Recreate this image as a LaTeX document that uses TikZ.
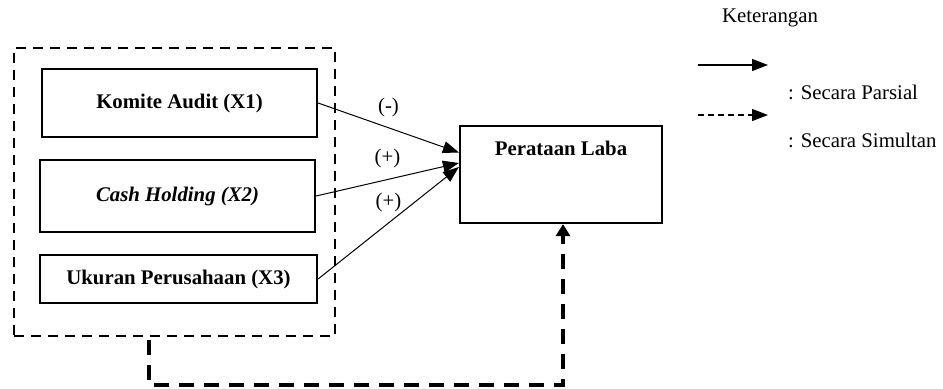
\documentclass[tikz,border=0pt]{standalone}
\usepackage{fontspec}
\setmainfont{Liberation Serif}
\usetikzlibrary{arrows.meta, positioning, calc}

\newcommand{\teks}{\fontsize{10.4}{12.5}\selectfont}

\begin{document}
\begin{tikzpicture}[
        % 1 birim = 0.5pt, y aşağı doğru artıyor
        x=0.5pt, y=-0.5pt,
        font=\teks,
        varbox/.style={rectangle, draw, line width=1.1pt, font=\teks\bfseries, align=center, inner sep=0pt},
        grupbox/.style={rectangle, draw, line width=0.9pt, dash pattern=on 5pt off 3.5pt, minimum width=160.5pt, minimum height=144pt},
        partial/.style={-{Triangle[length=8pt, width=6pt]}, line width=0.5pt},
        simultan/.style={-{Triangle[length=6pt, width=7pt]}, line width=2pt, dash pattern=on 7.5pt off 5pt},
        legendarrow/.style={-{Triangle[length=8pt, width=6pt]}, line width=0.6pt}
    ]

    \useasboundingbox (0,0) rectangle (943,388);

    % Bağımsız değişkenler (X1, X2, X3)
    \node (grup) [grupbox] at (174.5,192) {};

    \node (x1) [varbox, minimum width=137.5pt, minimum height=34pt] at (179.5,103) {Komite Audit (X1)};

    \node (x2) [varbox, minimum width=137.5pt, minimum height=36pt, font=\teks\bfseries\itshape] at (177.5,196) {Cash Holding (X2)};

    \node (x3) [varbox, minimum width=138.5pt, minimum height=24pt] at (178.5,279) {Ukuran Perusahaan (X3)};

    % Bağımlı değişken
    \node (laba) [varbox, minimum width=101pt, minimum height=48.5pt,
        label={[anchor=north, inner sep=0pt, yshift=-8pt, font=\teks\bfseries]north:Perataan Laba}] at (561,174.5) {};

    % Oklar (Arrows)
    \draw [partial] (x1.east) -- node[above=2pt] {(-)} ([yshift=11pt]laba.west);
    \draw [partial] (x2.east) -- node[above=2pt] {(+)} ([yshift=5.75pt]laba.west);
    \draw [partial] (x3.east) -- node[above=2pt] {(+)} ([yshift=3.75pt]laba.west);

    \draw [simultan] ([xshift=-12.75pt, yshift=-1.5pt]grup.south) -- ++(0,45) -| ([xshift=1pt]laba.south);

    % Keterangan
    \node (ket) at (770,18) {Keterangan};

    \coordinate (p1) at (698,65);
    \coordinate (p2) at (768,65);
    \coordinate (s1) at (698,115);
    \coordinate (s2) at (768,115);

    \draw [legendarrow] (p1) -- (p2);
    \draw [legendarrow, dash pattern=on 3pt off 2pt] (s1) -- (s2);

    \node (parsial) [anchor=west] at (781,92) {: Secara Parsial};
    \node (simul) [anchor=west] at (781,140) {: Secara Simultan};

\end{tikzpicture}
\end{document}
